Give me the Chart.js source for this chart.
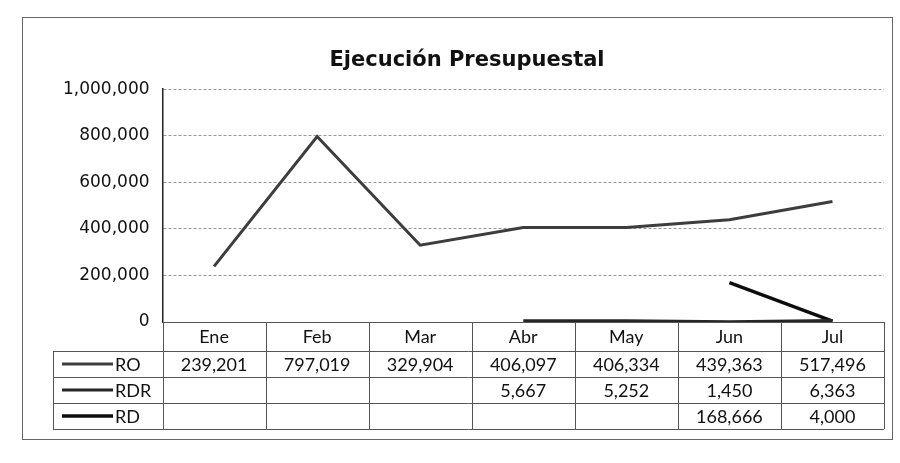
<!DOCTYPE html>
<html>
<head>
<meta charset="utf-8">
<script src="https://cdn.jsdelivr.net/npm/chart.js@4"></script>
<style>
  html, body { margin: 0; padding: 0; background: #fff; }
  #wrap { width: 900px; height: 463px; position: relative; }
</style>
</head>
<body>
<div id="wrap"><canvas id="c" width="900" height="463"></canvas></div>
<script>
const months = ['Ene', 'Feb', 'Mar', 'Abr', 'May', 'Jun', 'Jul'];
const seriesNames = ['RO', 'RDR', 'RD'];
const ro  = [239201, 797019, 329904, 406097, 406334, 439363, 517496];
const rdr = [null, null, null, 5667, 5252, 1450, 6363];
const rd  = [null, null, null, null, null, 168666, 4000];
const yTicks = [0, 200000, 400000, 600000, 800000, 1000000];
const titleText = 'Ejecución Presupuestal';

const lineColors = ['#3d3d3d', '#262626', '#0d0d0d'];
const lineWidths = [3, 3, 3.5];
const allSeries = [ro, rdr, rd];

function fmt(v) {
  return v.toLocaleString('en-US');
}

const tablePlugin = {
  id: 'dataTable',
  afterDraw(chart) {
    const ctx = chart.ctx;
    const x = chart.scales.x;
    const area = chart.chartArea;
    const colW = (area.right - area.left) / months.length;
    const top = area.bottom;
    const rowH = [29, 26, 26, 26];
    const rowTop = [top];
    for (let i = 0; i < rowH.length; i++) rowTop.push(rowTop[i] + rowH[i]);
    const legLeft = 53;
    ctx.save();
    ctx.strokeStyle = '#555';
    ctx.lineWidth = 1;
    ctx.beginPath();
    ctx.moveTo(area.left, rowTop[0] + 0.5);
    ctx.lineTo(area.right, rowTop[0] + 0.5);
    for (let r = 1; r < rowTop.length; r++) {
      ctx.moveTo(legLeft, Math.round(rowTop[r]) + 0.5);
      ctx.lineTo(area.right, Math.round(rowTop[r]) + 0.5);
    }
    for (let i = 0; i <= months.length; i++) {
      const xx = Math.round(area.left + i * colW) + 0.5;
      ctx.moveTo(xx, rowTop[0]);
      ctx.lineTo(xx, rowTop[rowTop.length - 1]);
    }
    ctx.moveTo(legLeft + 0.5, rowTop[1]);
    ctx.lineTo(legLeft + 0.5, rowTop[rowTop.length - 1]);
    ctx.stroke();

    ctx.fillStyle = '#111';
    ctx.font = '18px Lato';
    ctx.textAlign = 'center';
    ctx.textBaseline = 'middle';
    months.forEach((m, i) => {
      const cx = x.getPixelForValue(i);
      ctx.fillText(m, cx, rowTop[0] + rowH[0] / 2 + 1);
      allSeries.forEach((s, r) => {
        if (s[i] !== null) ctx.fillText(fmt(s[i]), cx, rowTop[r + 1] + rowH[r + 1] / 2 + 1);
      });
    });
    seriesNames.forEach((n, r) => {
      const cy = rowTop[r + 1] + rowH[r + 1] / 2;
      ctx.strokeStyle = lineColors[r];
      ctx.lineWidth = lineWidths[r];
      ctx.beginPath();
      ctx.moveTo(62, cy);
      ctx.lineTo(113, cy);
      ctx.stroke();
      ctx.textAlign = 'left';
      ctx.fillText(n, 115, cy + 1);
    });
    ctx.strokeStyle = '#666';
    ctx.lineWidth = 1;
    ctx.strokeRect(22.5, 17.5, 870, 422);
    ctx.restore();
  }
};

new Chart(document.getElementById('c'), {
  type: 'line',
  data: {
    labels: months,
    datasets: allSeries.map((s, i) => ({
      label: seriesNames[i],
      data: s,
      borderColor: lineColors[i],
      backgroundColor: lineColors[i],
      borderWidth: lineWidths[i],
      pointRadius: 0,
      tension: 0,
      spanGaps: false
    }))
  },
  options: {
    responsive: false,
    animation: false,
    layout: { padding: { left: 50, right: 16, top: 0, bottom: 141 } },
    plugins: {
      legend: { display: false },
      tooltip: { enabled: false },
      title: {
        display: true,
        text: titleText,
        color: '#111',
        font: { family: 'DejaVu Sans', size: 21, weight: 'bold' },
        padding: { top: 48, bottom: 16 }
      }
    },
    scales: {
      x: {
        type: 'category',
        offset: true,
        display: false
      },
      y: {
        min: 0,
        max: 1000000,
        afterBuildTicks(axis) { axis.ticks = yTicks.map(v => ({ value: v })); },
        ticks: {
          color: '#111',
          padding: 13,
          font: { family: 'DejaVu Sans', size: 17 },
          callback: v => fmt(v)
        },
        grid: {
          color: '#999',
          lineWidth: 1,
          drawTicks: false,
          tickBorderDash: [3, 3]
        },
        border: { display: true, color: '#222', width: 1.5, dash: [3, 2] }
      }
    }
  },
  plugins: [tablePlugin]
});
</script>
</body>
</html>
